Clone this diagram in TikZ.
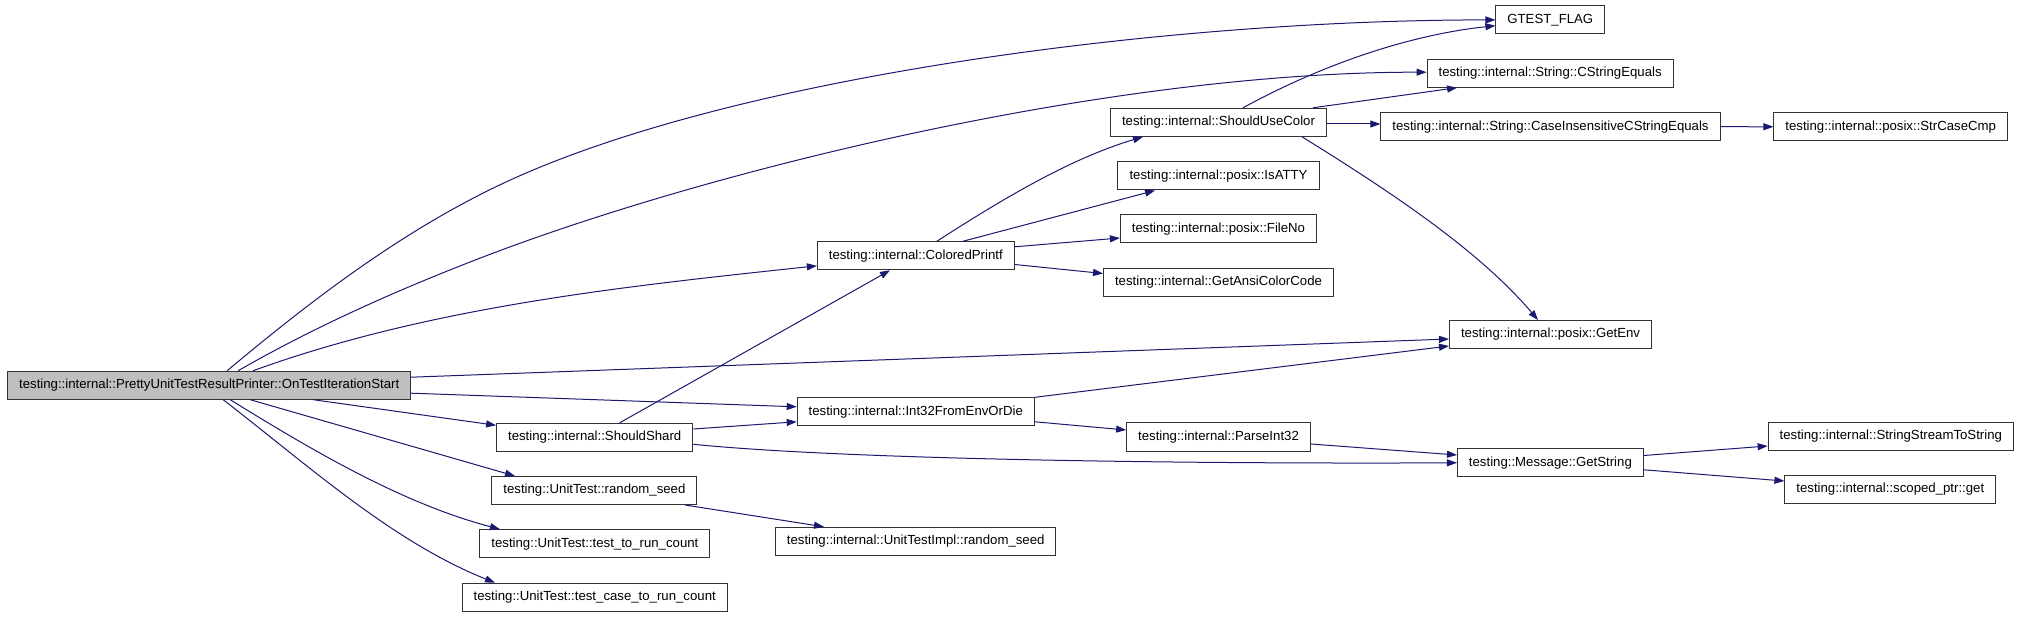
\documentclass[tikz,border=0pt]{standalone}
\usepackage{fontspec}
\setmainfont{Liberation Sans}
\usetikzlibrary{arrows.meta}
\definecolor{edgeblue}{HTML}{191970}

\begin{document}
\begin{tikzpicture}[x=1pt, y=-1pt,
        func/.style={rectangle, draw=black!80, line width=1pt, minimum height=28pt,
            inner xsep=11.5pt, inner ysep=0pt, text height=9.6pt, text depth=2.9pt,
            font=\fontsize{13.2}{15}\selectfont},
        focus/.style={func, fill=black!25},
        call/.style={draw=edgeblue, line width=1pt, -{Triangle[length=10pt,width=7pt]}}
    ]
        \useasboundingbox (0,0) rectangle (2019,617);

        \node[focus] (root) at (209.2,385.2) {testing::internal::PrettyUnitTestResultPrinter::OnTestIterationStart};
        \node[func] (flag) at (1550.3,19.9) {GTEST\_FLAG};
        \node[func] (cseq) at (1550.1,73.2) {testing::internal::String::CStringEquals};
        \node[func] (color) at (1218.5,122.3) {testing::internal::ShouldUseColor};
        \node[func] (cicse) at (1550.5,126.7) {testing::internal::String::CaseInsensitiveCStringEquals};
        \node[func] (strcmp) at (1890.7,126.8) {testing::internal::posix::StrCaseCmp};
        \node[func] (atty) at (1218.5,176) {testing::internal::posix::IsATTY};
        \node[func] (fileno) at (1218.5,229) {testing::internal::posix::FileNo};
        \node[func] (ansi) at (1218.5,282.5) {testing::internal::GetAnsiColorCode};
        \node[func] (printf) at (915.8,255.8) {testing::internal::ColoredPrintf};
        \node[func] (getenv) at (1550.5,334.5) {testing::internal::posix::GetEnv};
        \node[func] (int32) at (915.8,411.8) {testing::internal::Int32FromEnvOrDie};
        \node[func] (parse) at (1218.5,437) {testing::internal::ParseInt32};
        \node[func] (getstr) at (1550.4,462.8) {testing::Message::GetString};
        \node[func] (sstream) at (1890.8,436.2) {testing::internal::StringStreamToString};
        \node[func] (sptr) at (1890.3,489.4) {testing::internal::scoped\_ptr::get};
        \node[func] (shard) at (594.7,437.3) {testing::internal::ShouldShard};
        \node[func] (seed) at (594.4,490.5) {testing::UnitTest::random\_seed};
        \node[func] (runcnt) at (594.9,543.7) {testing::UnitTest::test\_to\_run\_count};
        \node[func] (casecnt) at (594.7,597.2) {testing::UnitTest::test\_case\_to\_run\_count};
        \node[func] (implseed) at (915.7,541.3) {testing::internal::UnitTestImpl::random\_seed};

        \draw[call] ([xshift=18pt]root.north) .. controls (315.9,296.4) and (411,224.2) .. (517,177)
            .. controls (745.4,75.3) and (1167,20) .. (flag.west);
        \draw[call] ([xshift=29pt]root.north) .. controls (316,326) and (399,289.3) .. (483,257)
            .. controls (707,171) and (1107,72) .. ([yshift=1pt]cseq.west);
        \draw[call] ([xshift=44pt]root.north) .. controls (431.6,306) and (629,286) .. ([yshift=-10pt]printf.west);
        \draw[call] ([yshift=8pt]root.east) -- ([yshift=-4.5pt]getenv.west);
        \draw[call] ([yshift=-8pt]root.east) -- ([yshift=5pt]int32.west);
        \draw[call] ([xshift=104pt]root.south) -- ([yshift=12pt]shard.west);
        \draw[call] ([xshift=41pt]root.south) -- ([xshift=-79.4pt]seed.north);
        \draw[call] ([xshift=21pt]root.south) .. controls (314.8,452) and (403.4,503.8) .. ([xshift=-95pt]runcnt.north);
        \draw[call] ([xshift=14pt]root.south) .. controls (309.7,466.7) and (393,542) .. ([xshift=-99.7pt]casecnt.north);

        \draw[call] ([xshift=25pt]shard.north) -- ([xshift=-25.8pt]printf.south);
        \draw[call] ([yshift=8.3pt]shard.east) -- ([yshift=-10pt]int32.west);
        \draw[call] ([yshift=-7pt]shard.east) .. controls (850,460) and (1200,464) .. (getstr.west);
        \draw[call] ([xshift=90.6pt]seed.south) -- ([xshift=-91.7pt]implseed.north);

        \draw[call] ([xshift=21pt]printf.north) .. controls (1001.3,199.8) and (1069.4,158.8) .. ([xshift=-75.5pt]color.south);
        \draw[call] ([xshift=47pt]printf.north) -- ([xshift=-63.5pt]atty.south);
        \draw[call] ([yshift=9pt]printf.east) -- ([yshift=-9pt]fileno.west);
        \draw[call] ([yshift=-8.7pt]printf.east) -- ([yshift=9pt]ansi.west);

        \draw[call] ([xshift=24.5pt]color.north) .. controls (1320.8,65.2) and (1408.3,35) .. ([yshift=-5.8pt]flag.west);
        \draw[call] ([xshift=94.5pt]color.north) -- ([xshift=-93pt]cseq.south);
        \draw[call] ([yshift=-1.7pt]color.east) -- ([yshift=2.7pt]cicse.west);
        \draw[call] ([xshift=83.5pt]color.south) .. controls (1395.3,194.6) and (1480.1,251.8) .. ([xshift=-12.5pt]getenv.north);
        \draw[call] (cicse.east) -- (strcmp.west);

        \draw[call] (int32.north east) -- ([yshift=-11.5pt]getenv.west);
        \draw[call] ([yshift=-10pt]int32.east) -- ([yshift=7pt]parse.west);
        \draw[call] ([yshift=-7pt]parse.east) -- ([yshift=7.8pt]getstr.west);
        \draw[call] ([yshift=7.3pt]getstr.east) -- ([yshift=-9.8pt]sstream.west);
        \draw[call] ([yshift=-7pt]getstr.east) -- ([yshift=8.4pt]sptr.west);
    \end{tikzpicture}
\end{document}
